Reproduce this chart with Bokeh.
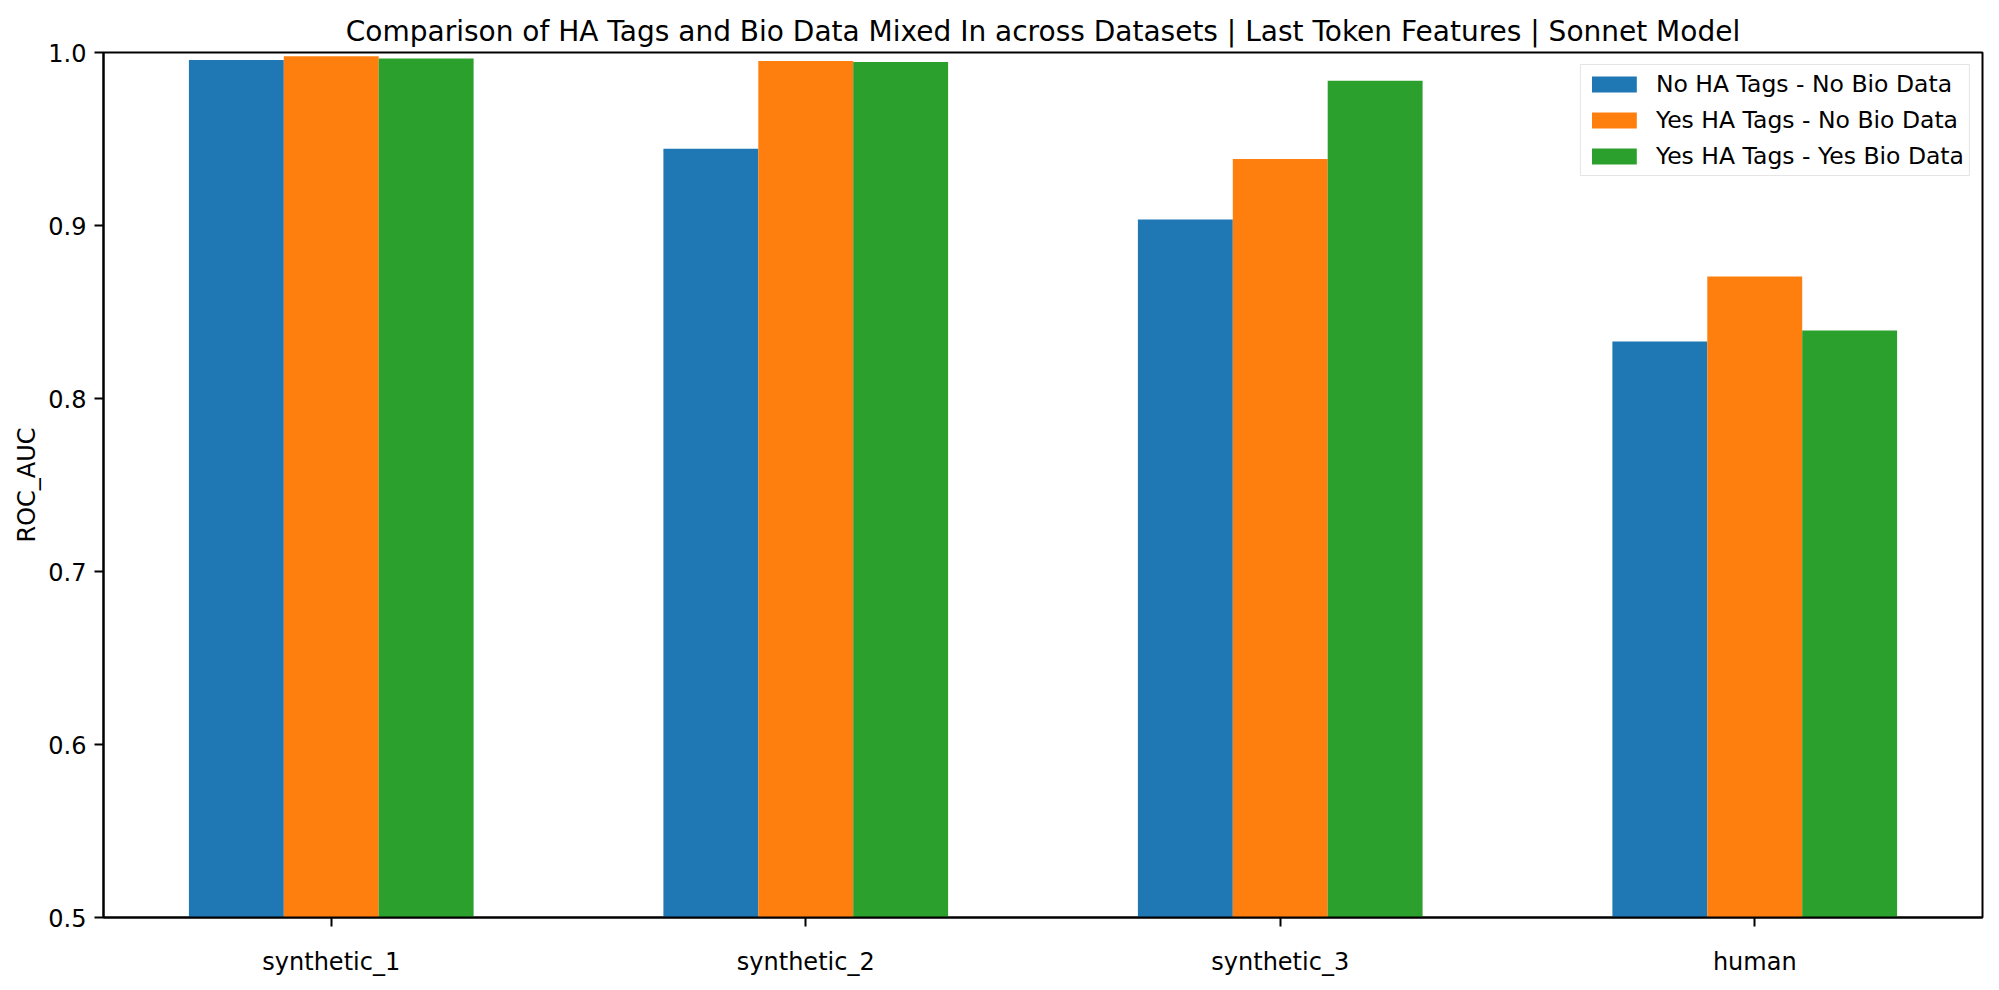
import numpy as np
from bokeh.plotting import figure
from bokeh.models import Range1d, FixedTicker, PrintfTickFormatter
from bokeh.embed import file_html
from bokeh.resources import INLINE

categories = ["synthetic_1", "synthetic_2", "synthetic_3", "human"]
series_names = ["No HA Tags - No Bio Data", "Yes HA Tags - No Bio Data", "Yes HA Tags - Yes Bio Data"]
no_ha_no_bio = [0.9956, 0.9443, 0.9035, 0.8330]
yes_ha_no_bio = [0.9979, 0.9951, 0.9385, 0.8705]
yes_ha_yes_bio = [0.9965, 0.9945, 0.9837, 0.8393]
y_ticks = [0.5, 0.6, 0.7, 0.8, 0.9, 1.0]

series = [no_ha_no_bio, yes_ha_no_bio, yes_ha_yes_bio]
colors = ["#1f77b4", "#ff7f0e", "#2ca02c"]
FONT = "DejaVu Sans"
bar_w = 0.2

p = figure(width=1995, height=985, output_backend="svg", toolbar_location=None,
           x_range=Range1d(-0.48, 3.48), y_range=Range1d(0.5, 1.0),
           min_border_left=103, min_border_right=13, min_border_top=52, min_border_bottom=68,
           title="Comparison of HA Tags and Bio Data Mixed In across Datasets | Last Token Features | Sonnet Model")

idx = np.arange(len(categories))
for i, (vals, name, c) in enumerate(zip(series, series_names, colors)):
    p.vbar(x=idx + (i - 1) * bar_w, top=vals, bottom=0, width=bar_w,
           fill_color=c, line_color=None, legend_label=name)

p.title.text_font = FONT
p.title.text_font_size = "28px"
p.title.text_font_style = "normal"
p.title.align = "center"
p.title.text_color = "black"

p.xgrid.visible = False
p.ygrid.visible = False
p.outline_line_color = "black"
p.outline_line_width = 2
p.outline_line_alpha = 1

p.xaxis.ticker = FixedTicker(ticks=list(idx))
p.xaxis.major_label_overrides = {int(i): c for i, c in zip(idx, categories)}
p.yaxis.ticker = FixedTicker(ticks=y_ticks)
p.yaxis.formatter = PrintfTickFormatter(format="%.1f")
p.yaxis.axis_label = "ROC_AUC"

for ax in (p.xaxis[0], p.yaxis[0]):
    ax.major_label_text_font = FONT
    ax.major_label_text_font_size = "24px"
    ax.major_label_text_color = "black"
    ax.axis_label_text_font = FONT
    ax.axis_label_text_font_size = "24px"
    ax.axis_label_text_font_style = "normal"
    ax.axis_label_text_color = "black"
    ax.axis_line_color = "black"
    ax.axis_line_width = 2
    ax.major_tick_line_width = 2
    ax.major_tick_in = 0
    ax.major_tick_out = 9
    ax.minor_tick_line_color = None
p.yaxis.major_label_standoff = 8
p.xaxis.major_label_standoff = 21
p.yaxis.axis_label_standoff = 4

lg = p.legend[0]
lg.location = "top_right"
lg.margin = 12
lg.padding = 5
lg.label_text_font = FONT
lg.label_text_font_size = "23.5px"
lg.label_text_color = "black"
lg.glyph_width = 56
lg.glyph_height = 20
lg.label_standoff = 14
lg.spacing = 8
lg.border_line_color = "#cccccc"
lg.border_line_width = 1.5
lg.background_fill_alpha = 0.8

open("out.html", "w").write(file_html(p, INLINE))
